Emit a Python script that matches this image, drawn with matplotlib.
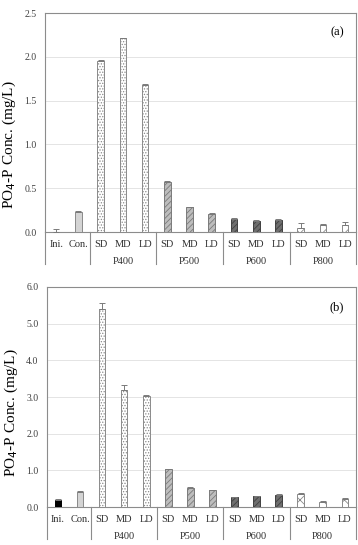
import numpy as np
import matplotlib.pyplot as plt
from matplotlib.transforms import blended_transform_factory

plt.rcParams['font.family'] = ['Liberation Serif', 'DejaVu Serif']
plt.rcParams['hatch.linewidth'] = 0.6

# categories
sub_labels = ['Ini.', 'Con.', 'SD', 'MD', 'LD', 'SD', 'MD', 'LD',
              'SD', 'MD', 'LD', 'SD', 'MD', 'LD']
group_labels = ['P400', 'P500', 'P600', 'P800']

# panel (a)
vals_a = [0.005, 0.23, 1.95, 2.21, 1.68, 0.57, 0.28, 0.21,
          0.15, 0.13, 0.14, 0.05, 0.08, 0.08]
err_a = [0.025, 0.01, 0.01, 0.01, 0.01, 0.01, 0.005, 0.005,
         0.005, 0.005, 0.01, 0.05, 0.01, 0.035]

# panel (b)
vals_b = [0.20, 0.40, 5.40, 3.20, 3.02, 1.03, 0.52, 0.46,
          0.27, 0.30, 0.34, 0.36, 0.15, 0.22]
err_b = [0.01, 0.04, 0.17, 0.12, 0.04, 0.01, 0.02, 0.01,
         0.01, 0.01, 0.02, 0.01, 0.02, 0.02]

faces = ['black', '#d4d4d4'] + ['white'] * 3 + ['#bdbdbd'] * 3 + ['#6e6e6e'] * 3 + ['white'] * 3
hatches = [None, None] + ['......'] * 3 + ['//////'] * 3 + ['//////'] * 3 + ['xxx'] * 3
edges = ['black', '#8a8a8a'] + ['#8a8a8a'] * 3 + ['#7a7a7a'] * 3 + ['#404040'] * 3 + ['#8a8a8a'] * 3


def draw_panel(ax, vals, errs, ymax, ystep, tag, label_y):
    x = np.arange(len(vals))
    for i in range(len(vals)):
        ax.bar(x[i], vals[i], width=0.3, color=faces[i], edgecolor=edges[i],
               hatch=hatches[i], linewidth=0.7, zorder=3)
    ax.errorbar(x, vals, yerr=[np.zeros(len(errs)), errs], fmt='none',
                ecolor='#7a7a7a', elinewidth=0.7, capsize=2, capthick=0.7, zorder=4)
    ax.set_xlim(-0.5, len(vals) - 0.5)
    ax.set_ylim(0, ymax)
    ticks = np.arange(0, ymax + 0.001, ystep)
    ax.set_yticks(ticks)
    ax.set_yticklabels([f'{v:.1f}' for v in ticks], fontsize=7)
    ax.grid(axis='y', color='#e4e4e4', linewidth=0.7, zorder=0)
    ax.set_axisbelow(True)
    for s in ax.spines.values():
        s.set_color('#8c8c8c')
        s.set_linewidth(0.8)
    ax.tick_params(axis='y', length=0, pad=6, colors='#404040')
    ax.set_xticks([])
    ax.set_ylabel('PO$_4$-P Conc. (mg/L)', fontsize=11)
    ax.yaxis.set_label_coords(-0.088, label_y)
    ax.text(0.96, 0.91, tag, transform=ax.transAxes, ha='right', va='center', fontsize=9)

    tr = blended_transform_factory(ax.transData, ax.transAxes)
    for i, lab in enumerate(sub_labels):
        ax.text(x[i], -0.058, lab, transform=tr, ha='center', va='center',
                fontsize=7.5, color='#303030')
    for g, lab in enumerate(group_labels):
        ax.text(2 + 3 * g + 1, -0.135, lab, transform=tr, ha='center', va='center',
                fontsize=7.5, color='#303030')
    for b in [-0.5, 1.5, 4.5, 7.5, 10.5, 13.5]:
        ax.plot([b, b], [0, -0.145], transform=tr, color='#8c8c8c',
                linewidth=0.8, clip_on=False)


fig = plt.figure(figsize=(3.58, 5.45), dpi=100)
ax1 = fig.add_axes([0.126, 0.5743, 0.869, 0.4018])
ax2 = fig.add_axes([0.131, 0.0697, 0.863, 0.4037])

draw_panel(ax1, vals_a, err_a, 2.5, 0.5, '(a)', 0.40)
draw_panel(ax2, vals_b, err_b, 6.0, 1.0, '(b)', 0.43)

fig.savefig('out.png', dpi=100)
